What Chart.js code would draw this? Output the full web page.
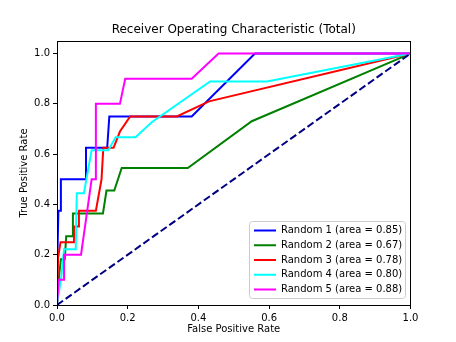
<!DOCTYPE html>
<html><head><meta charset="utf-8">
<script src="https://cdn.jsdelivr.net/npm/chart.js@4/dist/chart.umd.min.js"></script>
<style>html,body{margin:0;padding:0;background:#fff;overflow:hidden}#wrap{width:456px;height:342px;position:relative}</style>
</head><body><div id="wrap"><canvas id="c" width="456" height="342"></canvas></div>
<script>
// ---- data ----
const titleText = 'Receiver Operating Characteristic (Total)';
const xTitle = 'False Positive Rate';
const yTitle = 'True Positive Rate';
const xTicks = [0, 0.2, 0.4, 0.6, 0.8, 1.0];
const yTicks = [0, 0.2, 0.4, 0.6, 0.8, 1.0];

const seriesNames = ['Random 1', 'Random 2', 'Random 3', 'Random 4', 'Random 5'];
const seriesAreas = [0.85, 0.67, 0.78, 0.80, 0.88];
const seriesColors = ['#0000ff', '#008000', '#ff0000', '#00ffff', '#ff00ff'];

const fpr1 = [0, 0, 0.004, 0.011, 0.011, 0.082, 0.082, 0.142, 0.148, 0.381, 0.56, 1];
const tpr1 = [0, 0.125, 0.375, 0.375, 0.5, 0.5, 0.625, 0.625, 0.75, 0.75, 1, 1];

const fpr2 = [0, 0.004, 0.011, 0.022, 0.026, 0.043, 0.045, 0.13, 0.14, 0.162, 0.183, 0.37, 0.551, 1];
const tpr2 = [0, 0.091, 0.182, 0.182, 0.273, 0.273, 0.364, 0.364, 0.455, 0.455, 0.545, 0.545, 0.731, 1];

const fpr3 = [0, 0.003, 0.01, 0.048, 0.048, 0.062, 0.062, 0.11, 0.126, 0.131, 0.16, 0.178, 0.207, 0.339, 0.43, 1];
const tpr3 = [0, 0.1875, 0.25, 0.25, 0.3125, 0.3125, 0.375, 0.375, 0.5, 0.625, 0.625, 0.69, 0.75, 0.75, 0.81, 1];

const fpr4 = [0, 0.012, 0.02, 0.053, 0.056, 0.076, 0.098, 0.145, 0.166, 0.222, 0.268, 0.433, 0.594, 1];
const tpr4 = [0, 0.111, 0.222, 0.222, 0.444, 0.444, 0.615, 0.615, 0.667, 0.667, 0.727, 0.889, 0.889, 1];

const fpr5 = [0, 0.005, 0.02, 0.02, 0.068, 0.098, 0.108, 0.11, 0.178, 0.193, 0.381, 0.457, 1];
const tpr5 = [0, 0.1, 0.1, 0.2, 0.2, 0.5, 0.5, 0.8, 0.8, 0.9, 0.9, 1, 1];

const chanceX = [0, 1];
const chanceY = [0, 1];

// ---- build datasets ----
const fprs = [fpr1, fpr2, fpr3, fpr4, fpr5];
const tprs = [tpr1, tpr2, tpr3, tpr4, tpr5];
const toPts = (xs, ys) => xs.map((x, i) => ({x: x, y: ys[i]}));

const datasets = seriesNames.map((n, i) => ({
  label: n + ' (area = ' + seriesAreas[i].toFixed(2) + ')',
  data: toPts(fprs[i], tprs[i]),
  borderColor: seriesColors[i],
  backgroundColor: seriesColors[i],
  borderWidth: 2,
  pointRadius: 0,
  tension: 0,
  fill: false,
  clip: 0,
  order: seriesNames.length - i
}));
datasets.push({
  label: 'chance',
  data: toPts(chanceX, chanceY),
  borderColor: '#000080',
  backgroundColor: '#000080',
  borderWidth: 2,
  borderDash: [7.4, 3.2],
  pointRadius: 0,
  fill: false,
  clip: 0,
  order: 0
});

Chart.defaults.font.family = "'DejaVu Sans', sans-serif";
Chart.defaults.color = '#000';

const helperPlugin = {
  id: 'helper',
  afterLayout(chart) {
    const a = chart.chartArea, t = chart.titleBlock;
    if (t) { t.left = a.left; t.right = a.right; t.width = a.right - a.left; }
  },
  beforeDraw(chart) {
    const lg = chart.legend;
    if (lg) { lg.left = 249.25; lg.top = 220.75; lg.right = 405.7; lg.bottom = 342; }
    const ctx = chart.ctx;
    const x = 249.5, y = 221.5, w = 156, h = 77, r = 3;
    ctx.save();
    ctx.beginPath();
    ctx.moveTo(x + r, y);
    ctx.lineTo(x + w - r, y); ctx.arcTo(x + w, y, x + w, y + r, r);
    ctx.lineTo(x + w, y + h - r); ctx.arcTo(x + w, y + h, x + w - r, y + h, r);
    ctx.lineTo(x + r, y + h); ctx.arcTo(x, y + h, x, y + h - r, r);
    ctx.lineTo(x, y + r); ctx.arcTo(x, y, x + r, y, r);
    ctx.closePath();
    ctx.fillStyle = 'rgba(255,255,255,0.8)';
    ctx.fill();
    ctx.strokeStyle = '#cccccc';
    ctx.lineWidth = 1;
    ctx.stroke();
    ctx.restore();
  },
  afterDatasetsDraw(chart) {
    const a = chart.chartArea, ctx = chart.ctx;
    const l = Math.round(a.left) + 0.5, rr = Math.round(a.right) - 0.5;
    const t = Math.round(a.top) + 0.5, b = Math.round(a.bottom) + 0.5;
    ctx.save();
    ctx.strokeStyle = '#000';
    ctx.lineWidth = 1;
    ctx.strokeRect(l, t, rr - l, b - t);
    ctx.restore();
  }
};

new Chart(document.getElementById('c'), {
  type: 'line',
  data: { datasets: datasets },
  plugins: [helperPlugin],
  options: {
    responsive: false,
    animation: false,
    devicePixelRatio: 1,
    layout: { padding: { left: 0, right: 45.5, top: 0, bottom: 0 } },
    plugins: {
      tooltip: { enabled: false },
      title: {
        display: true,
        text: titleText,
        color: '#000',
        font: { size: 12, weight: 'normal' },
        padding: { top: 23, bottom: 3.6 }
      },
      legend: {
        display: true,
        position: 'chartArea',
        align: 'start',
        labels: {
          boxWidth: 22,
          boxHeight: 2,
          padding: 4.75,
          color: '#000',
          font: { size: 10 },
          generateLabels: (chart) => Chart.defaults.plugins.legend.labels.generateLabels(chart)
            .map(l => Object.assign(l, { fillStyle: l.strokeStyle, lineWidth: 0, lineDash: [] })),
          filter: (item) => item.datasetIndex < seriesNames.length,
          sort: (a, b) => a.datasetIndex - b.datasetIndex
        }
      }
    },
    scales: {
      x: {
        type: 'linear',
        min: 0, max: 1,
        afterBuildTicks: (s) => { s.ticks = xTicks.map(v => ({value: v})); },
        afterFit: (s) => { s.height = 37; },
        ticks: { callback: (v) => Number(v).toFixed(1), font: { size: 10 }, color: '#000', padding: 3, maxRotation: 0, autoSkip: false },
        grid: { display: true, drawOnChartArea: false, drawTicks: true, tickLength: 4, color: '#000', tickColor: '#000' },
        border: { display: true, color: '#000', width: 1 },
        title: { display: true, text: xTitle, color: '#000', font: { size: 10 }, padding: { top: 0, bottom: 7 } }
      },
      y: {
        type: 'linear',
        min: 0, max: 1.05,
        afterBuildTicks: (s) => { s.ticks = yTicks.map(v => ({value: v})); },
        afterFit: (s) => { s.width = 57; },
        ticks: { callback: (v) => Number(v).toFixed(1), font: { size: 10 }, color: '#000', padding: 3, autoSkip: false },
        grid: { display: true, drawOnChartArea: false, drawTicks: true, tickLength: 4, color: '#000', tickColor: '#000' },
        border: { display: true, color: '#000', width: 1 },
        title: { display: true, text: yTitle, color: '#000', font: { size: 10 }, padding: { top: 18, bottom: 0 } }
      }
    }
  }
});
</script>
</body></html>
